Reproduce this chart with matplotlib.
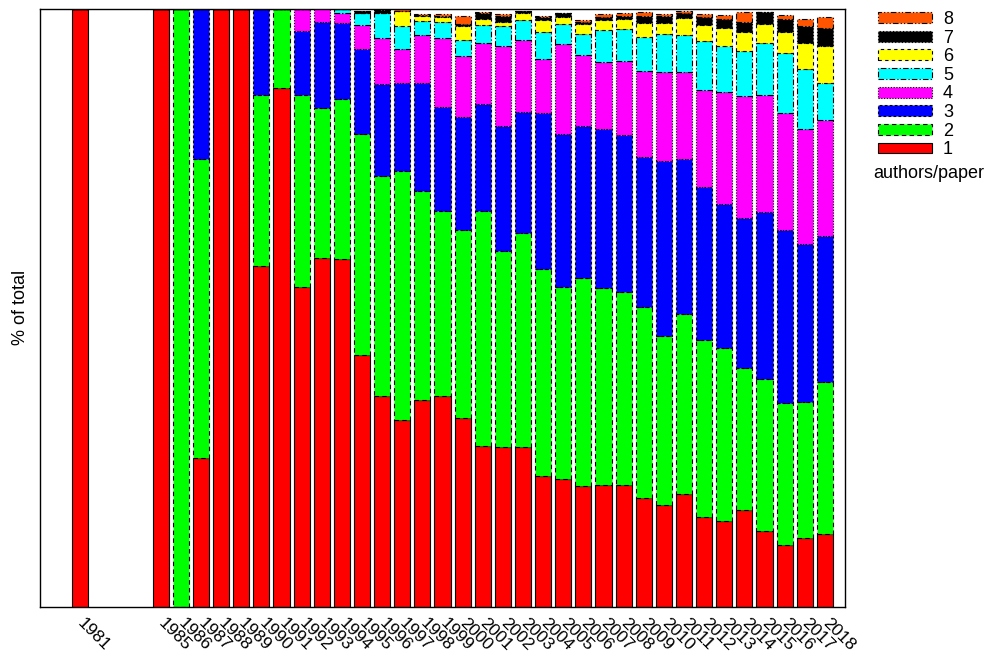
import matplotlib
matplotlib.use("Agg")
import matplotlib.pyplot as plt
import numpy as np

plt.rcParams['font.family'] = ['Liberation Sans', 'DejaVu Sans']

years = [1981, 1985, 1986, 1987, 1988, 1989, 1990, 1991, 1992, 1993, 1994,
         1995, 1996, 1997, 1998, 1999, 2000, 2001, 2002, 2003, 2004, 2005,
         2006, 2007, 2008, 2009, 2010, 2011, 2012, 2013, 2014, 2015, 2016,
         2017, 2018]

a1 = [100, 100, 0, 24.8, 100, 100, 57.0, 86.7, 53.4, 58.2, 58.1,
      42.1, 35.2, 31.2, 34.6, 35.2, 31.5, 26.9, 26.7, 26.7, 21.8, 21.4,
      20.2, 20.3, 20.3, 18.1, 17.0, 18.8, 15.0, 14.3, 16.1, 12.7, 10.3,
      11.5, 12.2]
a2 = [0, 0, 100, 50.0, 0, 0, 28.5, 13.3, 32.1, 25.2, 26.7,
      36.9, 36.8, 41.7, 34.9, 31.0, 31.5, 39.2, 32.8, 35.7, 34.6, 32.1,
      34.8, 33.0, 32.3, 32.0, 28.2, 30.1, 29.6, 29.0, 23.7, 25.3, 23.8,
      22.7, 25.4]
a3 = [0, 0, 0, 25.2, 0, 0, 14.5, 0, 10.8, 14.4, 12.8,
      14.2, 15.4, 14.7, 18.1, 17.3, 18.9, 18.0, 20.9, 20.3, 26.2, 25.5,
      25.4, 26.5, 26.2, 25.1, 29.3, 25.9, 25.5, 24.0, 25.2, 27.9, 28.9,
      26.5, 24.4]
a4 = [0, 0, 0, 0, 0, 0, 0, 0, 3.7, 2.2, 1.6,
      4.0, 7.6, 5.6, 7.9, 11.6, 10.2, 10.1, 13.4, 12.1, 8.9, 15.1,
      11.8, 11.3, 12.5, 14.3, 14.8, 14.5, 16.3, 18.7, 20.4, 19.6, 19.5,
      19.1, 19.4]
a5 = [0, 0, 0, 0, 0, 0, 0, 0, 0, 0, 0.8,
      2.1, 4.2, 3.9, 2.4, 2.7, 2.7, 3.0, 3.2, 3.3, 4.6, 3.3,
      3.5, 5.3, 5.2, 5.8, 6.5, 6.3, 8.2, 7.8, 7.5, 8.7, 10.1,
      10.0, 6.1]
a6 = [0, 0, 0, 0, 0, 0, 0, 0, 0, 0, 0,
      0, 0, 2.5, 0.8, 0.7, 2.2, 1.0, 0.8, 1.1, 2.0, 1.1,
      1.7, 1.7, 1.7, 2.3, 1.7, 2.8, 2.6, 2.9, 3.1, 3.2, 3.5,
      4.5, 6.2]
a7 = [0, 0, 0, 0, 0, 0, 0, 0, 0, 0, 0,
      0.3, 0.5, 0, 0.2, 0.2, 0.4, 1.0, 0.9, 0.4, 0.4, 0.7,
      0.4, 0.5, 0.5, 1.1, 1.2, 0.9, 1.3, 1.5, 1.8, 2.0, 2.1,
      2.8, 3.1]
a8 = [0, 0, 0, 0, 0, 0, 0, 0, 0, 0, 0,
      0, 0, 0.3, 0.2, 0.3, 1.4, 0.2, 0.3, 0, 0.3, 0,
      0.3, 0.4, 0.6, 0.7, 0.3, 0.3, 0.5, 0.7, 1.6, 0, 0.7,
      1.1, 1.7]

series_labels = ['1', '2', '3', '4', '5', '6', '7', '8']
series = [a1, a2, a3, a4, a5, a6, a7, a8]
colors = ['#ff0000', '#00ff00', '#0000ff', '#ff00ff', '#00ffff',
          '#ffff00', '#000000', '#ff5500']
styles = ['solid', (0, (4, 3)), (0, (2.5, 2)), (0, (1, 1.5)),
          (0, (5, 2, 1, 2)), (0, (3, 3)), (0, (1, 2)), (0, (5, 2, 1, 2, 1, 2))]

W, H = 995, 655
fig = plt.figure(figsize=(W / 100, H / 100), dpi=100)
ax = fig.add_axes([40 / W, (H - 606.5) / H, 805 / W, 598 / H])

x = np.array(years, dtype=float)
bottom = np.zeros(len(years))
handles = []
for vals, col, ls, lab in zip(series, colors, styles, series_labels):
    v = np.array(vals, dtype=float)
    bars = ax.bar(x, v, width=0.8, bottom=bottom, color=col,
                  edgecolor='black', linewidth=0.8, linestyle=ls, label=lab)
    handles.append(bars)
    bottom += v

ax.set_xlim(1979, 2019)
ax.set_ylim(0, 100)
ax.set_yticks([])
ax.set_xticks(years)
ax.set_xticklabels([str(y) for y in years], rotation=-45, ha='left',
                   va='center', rotation_mode='anchor', fontsize=12.5)
ax.tick_params(axis='x', length=0, pad=10)
for s in ax.spines.values():
    s.set_linewidth(1.0)

ax.set_ylabel('% of total', fontsize=13)
ax.yaxis.set_label_coords(-11 / 805, 0.5)

leg = fig.legend(handles[::-1], series_labels[::-1], loc='upper left',
                 bbox_to_anchor=(878 / W, 1 - 11 / H), frameon=False,
                 fontsize=13, handlelength=3.0, handleheight=0.55,
                 labelspacing=0.09, handletextpad=0.6, borderpad=0,
                 borderaxespad=0)
fig.text(873 / W, 1 - 173 / H, 'authors/paper', fontsize=13,
         ha='left', va='center')

fig.savefig('out.png', dpi=100)
